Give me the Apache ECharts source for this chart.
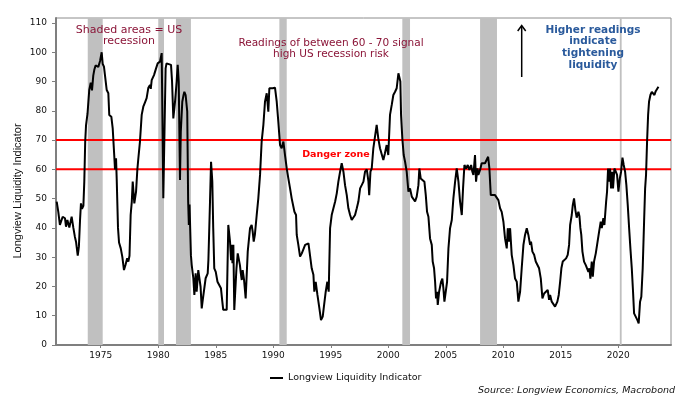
<!DOCTYPE html>
<html>
<head>
<meta charset="utf-8">
<script src="https://cdn.jsdelivr.net/npm/echarts@6/dist/echarts.min.js"></script>
<style>html,body{margin:0;padding:0;background:#fff}#chart{width:691px;height:404px}</style>
</head>
<body>
<div id="chart"></div>
<script>
// ---- data (decimal year, indicator value) ----
const years = [
1971.17,1971.31,1971.45,1971.52,1971.69,1971.89,1971.98,1972.10,1972.18,1972.27,1972.47,1972.62,1972.75,1972.85,1973.00,1973.10,1973.20,1973.28,1973.37,1973.49,
1973.57,1973.65,1973.72,1973.85,1974.00,1974.13,1974.24,1974.35,1974.44,1974.55,1974.65,1974.79,1974.94,1975.08,1975.17,1975.28,1975.40,1975.52,1975.66,1975.74,
1975.92,1976.04,1976.18,1976.24,1976.33,1976.39,1976.50,1976.59,1976.74,1976.88,1977.02,1977.15,1977.30,1977.40,1977.50,1977.60,1977.70,1977.78,1977.92,1978.07,
1978.18,1978.27,1978.41,1978.56,1978.70,1978.85,1978.99,1979.14,1979.28,1979.35,1979.43,1979.63,1979.81,1979.95,1980.15,1980.30,1980.36,1980.44,1980.52,1980.64,
1980.72,1980.87,1981.11,1981.20,1981.31,1981.46,1981.60,1981.69,1981.78,1981.89,1981.96,1982.09,1982.20,1982.27,1982.38,1982.45,1982.52,1982.60,1982.66,1982.72,
1982.84,1982.91,1983.05,1983.14,1983.25,1983.34,1983.48,1983.57,1983.68,1983.78,1983.87,1984.00,1984.12,1984.30,1984.36,1984.50,1984.59,1984.70,1984.78,1984.87,
1985.00,1985.15,1985.28,1985.45,1985.57,1985.65,1985.95,1986.09,1986.24,1986.33,1986.39,1986.45,1986.53,1986.61,1986.72,1986.80,1986.91,1987.02,1987.10,1987.18,
1987.26,1987.34,1987.46,1987.60,1987.69,1987.78,1987.89,1987.98,1988.12,1988.21,1988.30,1988.40,1988.56,1988.70,1988.85,1988.99,1989.14,1989.28,1989.43,1989.57,
1989.66,1989.80,1989.95,1990.15,1990.30,1990.44,1990.59,1990.73,1990.88,1991.02,1991.17,1991.31,1991.46,1991.60,1991.75,1991.84,1991.98,1992.04,1992.18,1992.33,
1992.48,1992.62,1992.77,1992.91,1993.06,1993.20,1993.34,1993.49,1993.57,1993.69,1993.84,1994.01,1994.15,1994.30,1994.42,1994.56,1994.70,1994.82,1994.94,1995.08,
1995.23,1995.38,1995.52,1995.66,1995.81,1995.95,1996.10,1996.24,1996.39,1996.53,1996.68,1996.82,1996.97,1997.11,1997.26,1997.40,1997.55,1997.69,1997.84,1997.98,
1998.13,1998.27,1998.34,1998.45,1998.56,1998.70,1998.85,1998.99,1999.13,1999.28,1999.42,1999.57,1999.71,1999.86,2000.00,2000.15,2000.30,2000.44,2000.59,2000.73,
2000.88,2000.97,2001.05,2001.11,2001.22,2001.34,2001.46,2001.60,2001.75,2001.89,2002.04,2002.18,2002.33,2002.47,2002.62,2002.70,2002.82,2002.97,2003.14,2003.26,
2003.37,2003.49,2003.63,2003.78,2003.86,2003.98,2004.07,2004.15,2004.24,2004.30,2004.42,2004.59,2004.70,2004.79,2004.88,2005.00,2005.11,2005.23,2005.37,2005.52,
2005.66,2005.81,2005.95,2006.10,2006.24,2006.39,2006.50,2006.62,2006.76,2006.91,2007.05,2007.20,2007.31,2007.40,2007.54,2007.63,2007.75,2007.83,2007.98,2008.12,
2008.27,2008.41,2008.56,2008.68,2008.79,2008.91,2009.02,2009.28,2009.43,2009.57,2009.72,2009.86,2010.01,2010.15,2010.30,2010.39,2010.50,2010.59,2010.73,2010.88,
2011.02,2011.17,2011.31,2011.46,2011.60,2011.75,2011.89,2012.04,2012.18,2012.33,2012.41,2012.53,2012.68,2012.82,2012.97,2013.11,2013.26,2013.40,2013.55,2013.72,
2013.86,2013.98,2014.07,2014.21,2014.36,2014.50,2014.59,2014.70,2014.82,2014.94,2015.05,2015.17,2015.28,2015.46,2015.60,2015.72,2015.81,2015.95,2016.04,2016.15,
2016.27,2016.38,2016.53,2016.62,2016.70,2016.78,2016.88,2017.02,2017.17,2017.31,2017.40,2017.49,2017.57,2017.69,2017.78,2017.89,2018.04,2018.18,2018.33,2018.47,
2018.56,2018.70,2018.79,2018.94,2019.02,2019.11,2019.20,2019.28,2019.37,2019.46,2019.54,2019.66,2019.78,2019.89,2020.01,2020.13,2020.24,2020.36,2020.47,2020.59,
2020.70,2020.82,2020.94,2021.05,2021.17,2021.28,2021.37,2021.51,2021.66,2021.77,2021.89,2022.00,2022.12,2022.24,2022.33,2022.41,2022.50,2022.59,2022.67,2022.79,
2022.91,2023.02,2023.14,2023.25,2023.37,2023.49
];
const values = [
49.0,45.5,41.0,40.4,43.8,43.3,40.4,42.7,42.1,40.1,43.8,40.0,37.0,35.3,30.5,33.6,42.7,48.4,46.5,47.5,
55.8,69.5,75.0,79.0,87.1,89.6,87.0,92.0,94.0,95.5,96.0,95.0,97.0,100.0,96.0,95.1,94.5,87.1,86.0,78.6,
78.0,74.0,64.3,60.0,63.8,56.4,40.0,35.0,33.0,30.0,25.6,27.3,29.6,28.5,30.5,44.4,49.0,55.8,48.4,52.4,
59.8,63.8,69.5,78.6,81.4,82.9,84.3,87.9,88.8,87.5,90.5,92.2,94.5,96.2,96.8,99.7,99.1,50.1,50.1,94.5,
96.2,95.7,95.7,90.0,77.4,83.1,90.0,95.7,90.0,56.4,72.9,83.1,85.4,86.5,85.4,86.0,79.7,49.0,41.0,48.0,
30.7,27.3,22.8,17.1,24.5,18.2,25.6,25.6,19.9,12.5,15.4,15.9,22.8,24.5,29.0,49.0,62.6,55.8,39.9,26.2,
25.0,21.6,22.2,19.4,14.8,12.0,12.0,41.0,35.3,29.0,34.2,27.9,34.2,12.0,12.5,26.2,31.3,30.8,27.3,24.5,
22.2,25.6,22.2,15.9,15.9,31.9,31.3,39.9,41.0,38.7,35.3,37.6,44.4,50.1,58.1,69.5,75.2,83.1,86.0,79.7,
87.7,87.9,87.7,87.9,83.1,76.2,68.3,67.2,69.5,64.9,60.3,56.9,53.5,50.1,50.7,45.5,44.4,37.6,34.2,30.2,
31.3,31.9,34.2,34.4,34.7,34.7,26.2,24.0,18.2,21.6,17.1,12.5,8.5,9.7,13.7,18.2,21.6,18.2,39.9,44.4,
45.0,49.0,51.8,55.8,59.2,62.1,59.2,54.6,51.2,46.7,44.4,42.7,42.1,44.4,46.7,49.0,53.5,54.6,55.8,59.2,
60.0,56.0,51.2,59.2,60.3,67.2,67.7,75.2,70.6,67.2,66.6,63.2,65.5,68.3,64.9,78.6,82.0,85.4,86.5,87.7,
92.8,93.4,90.0,78.6,70.6,64.9,62.6,59.2,52.4,53.5,50.7,50.1,49.0,50.7,54.6,60.3,56.9,56.9,55.8,51.2,
45.5,43.8,36.4,34.2,28.5,26.2,21.6,15.9,18.2,13.7,18.2,21.6,22.7,19.4,14.8,14.2,21.6,33.0,39.9,42.7,
50.1,55.8,60.3,55.8,49.0,44.4,53.5,61.5,60.3,61.5,59.8,61.5,59.2,58.1,64.9,55.8,60.3,58.1,59.8,62.1,
61.5,62.1,62.1,64.3,60.3,51.2,51.2,51.2,50.7,49.5,46.7,45.5,42.1,36.4,33.0,39.9,35.3,39.9,30.8,27.3,
22.7,21.6,14.8,18.2,26.2,34.2,37.6,39.9,37.6,34.2,35.3,31.9,30.8,28.5,28.5,26.2,22.7,15.9,17.6,18.2,
18.8,15.4,17.1,14.8,14.8,13.1,12.5,14.8,17.1,21.6,26.2,28.5,27.9,29.6,30.8,34.2,41.0,44.4,47.8,50.1,
46.0,43.5,45.5,44.0,40.0,37.6,31.9,28.5,27.3,26.8,25.0,26.2,22.7,28.5,23.3,28.5,31.3,31.9,38.7,42.1,
39.9,43.3,41.0,49.0,52.4,60.3,55.8,60.3,53.5,59.2,53.5,60.3,59.2,58.1,52.4,56.9,59.2,64.0,61.5,59.2,
54.6,47.8,39.9,33.0,26.2,18.2,10.8,9.7,8.5,7.4,14.8,16.5,26.2,42.1,53.5,58.1,69.5,78.6,83.1,85.4,
86.5,86.7,85.4,86.7,87.1,88.2
];
// US recessions (start, end as decimal years)
const recessions = [[1973.87,1975.17],[1980.0,1980.5],[1981.54,1982.84],[1990.53,1991.17],[2001.22,2001.89],[2007.98,2009.45],[2020.13,2020.29]];
const dangerLevels = [60, 70];
const xRange = [1971.11, 2024.58];
const xTicks = [1975,1980,1985,1990,1995,2000,2005,2010,2015,2020];
const yTicks = [0,10,20,30,40,50,60,70,80,90,100,110];
const seriesName = 'Longview Liquidity Indicator';

const chart = echarts.init(document.getElementById('chart'), null, {renderer: 'canvas'});
const lineData = years.map((y, i) => [y, values[i]]);
const FONT = '"DejaVu Sans", Verdana, sans-serif';

const dangerSeries = dangerLevels.map((lv, i) => ({
  name: 'danger' + lv, type: 'line', z: 2, silent: true, showSymbol: false, symbol: 'none',
  data: [[xRange[0], lv], [xRange[1], lv]],
  lineStyle: {color: '#ff0000', width: 2}, emphasis: {disabled: true}
}));

chart.setOption({
  animation: false,
  backgroundColor: '#ffffff',
  tooltip: {show: false},
  grid: {left: 56, right: 20, top: 18, bottom: 59, show: true, borderColor: '#8c8c8c', borderWidth: 1, backgroundColor: 'transparent'},
  legend: {
    data: [seriesName], left: 265, top: 368, icon: 'rect', itemWidth: 13, itemHeight: 2, itemGap: 5,
    textStyle: {fontFamily: FONT, fontSize: 9.5, color: '#111'}
  },
  xAxis: {
    type: 'value', min: xRange[0], max: xRange[1],
    axisLine: {show: true, lineStyle: {color: '#7f7f7f', width: 2}},
    axisTick: {show: true, customValues: xTicks, length: 3, lineStyle: {color: '#7f7f7f'}},
    axisLabel: {customValues: xTicks, margin: 6, fontFamily: FONT, fontSize: 9, color: '#111', formatter: v => String(Math.round(v))},
    splitLine: {show: false}
  },
  yAxis: {
    type: 'value', min: 0, max: 111.7,
    axisLine: {show: true, lineStyle: {color: '#7f7f7f', width: 2}},
    axisTick: {show: true, customValues: yTicks, length: 4, lineStyle: {color: '#7f7f7f'}},
    axisLabel: {customValues: yTicks, margin: 9, fontFamily: FONT, fontSize: 9, color: '#111'},
    splitLine: {show: false}
  },
  series: [
    {
      name: 'recessions', type: 'line', data: [], z: 1, silent: true,
      markArea: {silent: true, itemStyle: {color: '#c0c0c0'}, label: {show: false}, emphasis: {disabled: true, label: {show: false}},
        data: recessions.map(r => [{xAxis: r[0]}, {xAxis: r[1]}])}
    },
    ...dangerSeries,
    {
      name: seriesName, type: 'line', data: lineData, z: 3, showSymbol: false, symbol: 'none',
      lineStyle: {color: '#000000', width: 2}, itemStyle: {color: '#000000'}, emphasis: {disabled: true}
    }
  ],
  graphic: [
    {type: 'text', z: 100, x: 129, y: 36, style: {text: 'Shaded areas = US\nrecession', fill: '#8b1538', font: '11px ' + FONT, align: 'center', verticalAlign: 'middle', lineHeight: 11}},
    {type: 'text', z: 100, x: 331, y: 49, style: {text: 'Readings of between 60 - 70 signal\nhigh US recession risk', fill: '#8b1538', font: '10.5px ' + FONT, align: 'center', verticalAlign: 'middle', lineHeight: 10.5}},
    {type: 'text', z: 100, x: 336, y: 155, style: {text: 'Danger zone', fill: '#ff0000', font: 'bold 9.5px ' + FONT, align: 'center', verticalAlign: 'middle'}},
    {type: 'text', z: 100, x: 593, y: 47.5, style: {text: 'Higher readings\nindicate\ntightening\nliquidity', fill: '#2a5a9c', font: 'bold 10.5px ' + FONT, align: 'center', verticalAlign: 'middle', lineHeight: 11.7}},
    {type: 'line', z: 100, shape: {x1: 521.7, y1: 77, x2: 521.7, y2: 26}, style: {stroke: '#000', lineWidth: 1.5}},
    {type: 'polyline', z: 100, shape: {points: [[517.7, 31], [521.7, 25.5], [525.7, 31]]}, style: {stroke: '#000', lineWidth: 1.5, fill: null}},
    {type: 'text', z: 100, x: 18, y: 191, rotation: Math.PI / 2, style: {text: 'Longview Liquidity Indicator', fill: '#111', font: '11px "Liberation Sans", Arial, sans-serif', align: 'center', verticalAlign: 'middle'}},
    {type: 'text', z: 100, x: 675, y: 391, style: {text: 'Source: Longview Economics, Macrobond', fill: '#111', font: 'italic 9.5px ' + FONT, align: 'right', verticalAlign: 'middle'}}
  ]
});
</script>
</body>
</html>
